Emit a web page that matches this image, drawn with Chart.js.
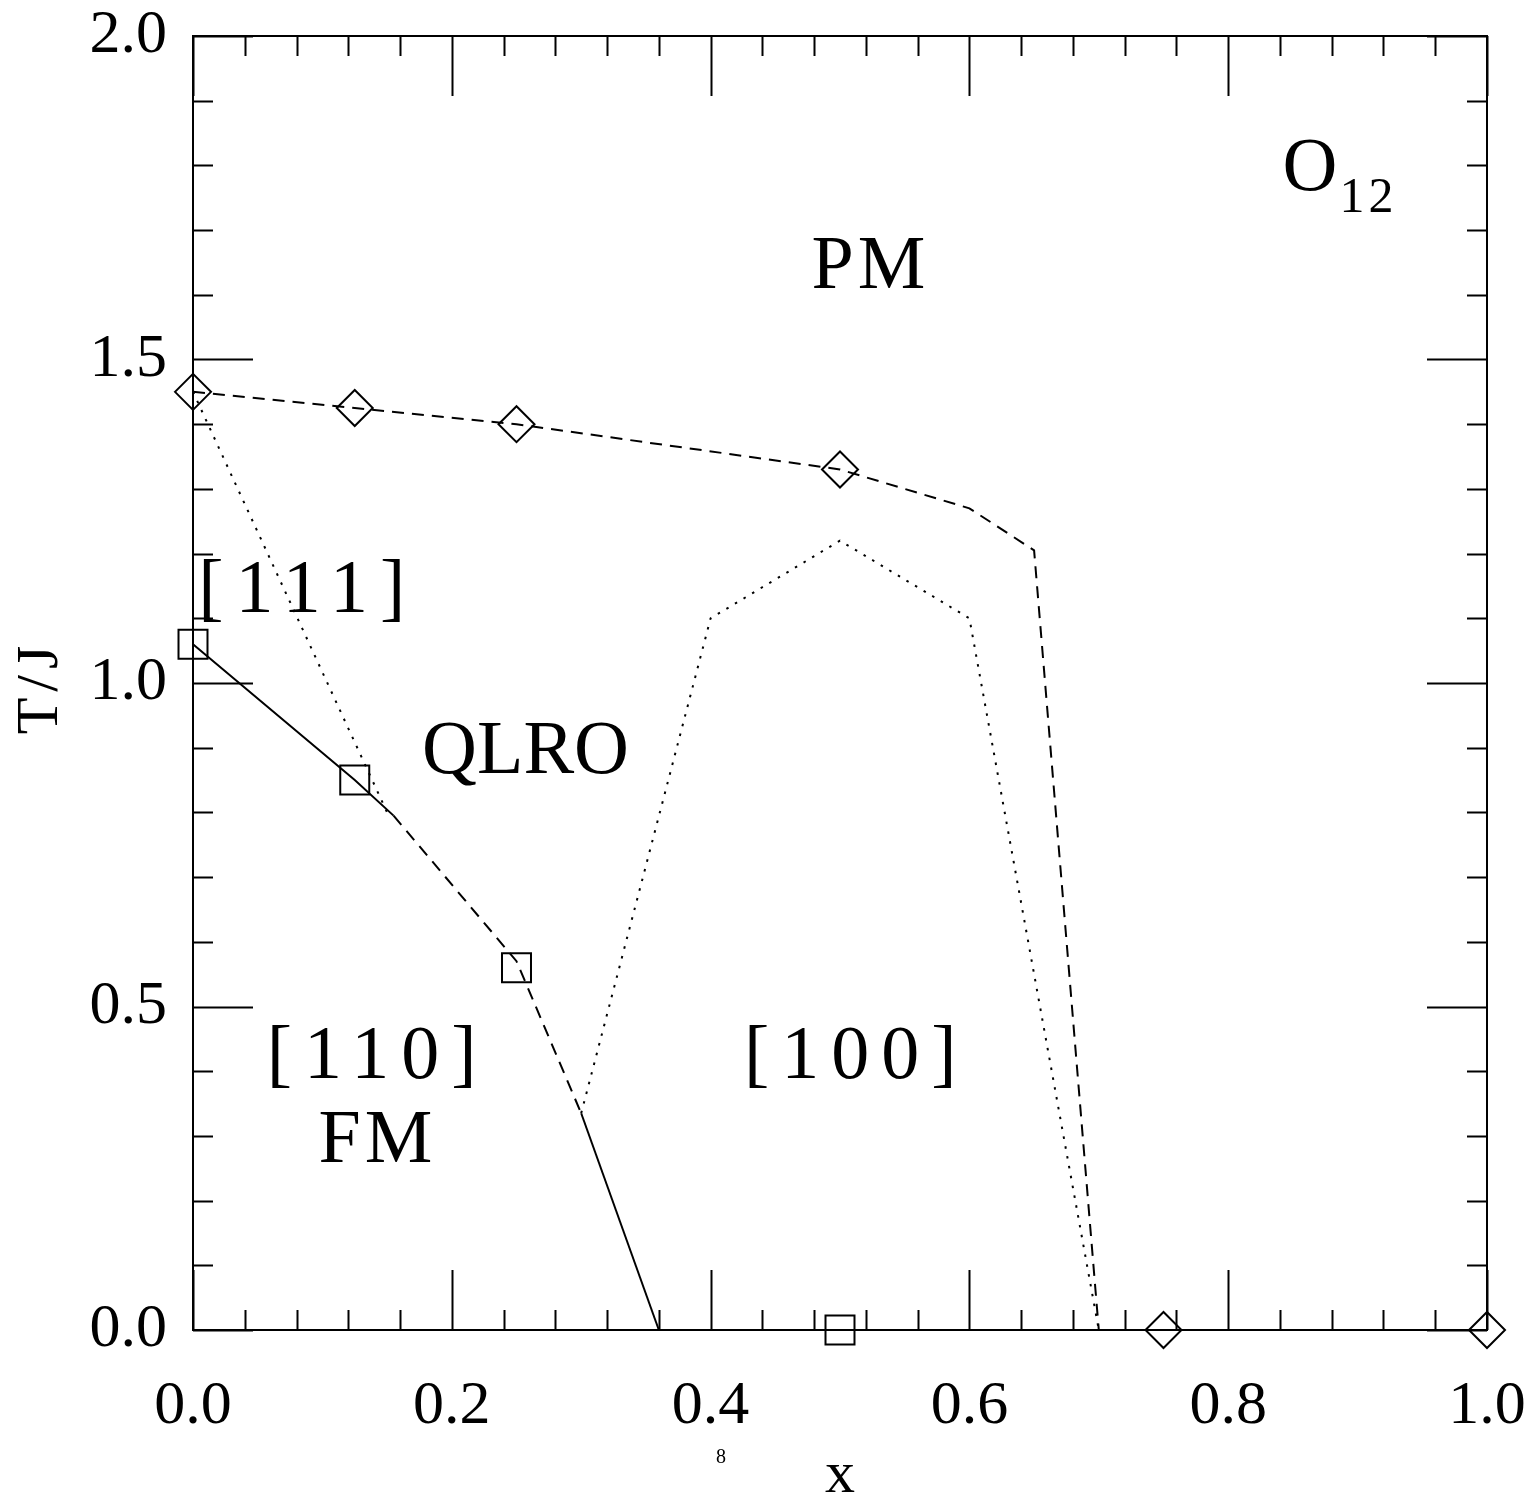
<!DOCTYPE html>
<html lang="en">
<head>
    <meta charset="UTF-8">
    <title>O12 phase diagram</title>
    <script src="https://cdn.jsdelivr.net/npm/chart.js"></script>
    <style>
        body { margin: 0; background: #ffffff; }
        #wrap { width: 1533px; height: 1497px; }
    </style>
</head>
<body>
    <div id="wrap"><canvas id="phase"></canvas></div>

    <script>
        // --- data ---
        // upper (PM) boundary, dashed
        const upperX = [0, 0.125, 0.25, 0.5, 0.6, 0.65, 0.7];
        const upperY = [1.45, 1.425, 1.40, 1.33, 1.27, 1.205, 0];
        // diamond markers
        const diamondX = [0, 0.125, 0.25, 0.5, 0.75, 1.0];
        const diamondY = [1.45, 1.425, 1.40, 1.33, 0, 0];
        // square markers
        const squareX = [0, 0.125, 0.25, 0.5];
        const squareY = [1.06, 0.85, 0.56, 0];
        // FM boundary: solid, dashed, solid pieces
        const fmSolid1X = [0, 0.125, 0.155];
        const fmSolid1Y = [1.06, 0.85, 0.795];
        const fmDashX = [0.155, 0.25, 0.3];
        const fmDashY = [0.795, 0.57, 0.335];
        const fmSolid2X = [0.3, 0.36];
        const fmSolid2Y = [0.335, 0];
        // dotted boundaries
        const dot111X = [0, 0.15];
        const dot111Y = [1.45, 0.80];
        const dot100X = [0.3, 0.4, 0.5, 0.6, 0.7];
        const dot100Y = [0.335, 1.10, 1.22, 1.10, 0];

        // tick setup
        const xMin = 0, xMax = 1, xMajor = 0.2, xMinor = 0.04;
        const yMin = 0, yMax = 2, yMajor = 0.5, yMinor = 0.1;

        // region labels (data coordinates)
        const regionLabels = [
            { text: "PM", x: 0.522, y: 1.61, size: 76, ls: 4 },
            { text: "[111]", x: 0.084, y: 1.11, size: 76, ls: 12 },
            { text: "QLRO", x: 0.257, y: 0.861, size: 76, ls: 0 },
            { text: "[110]", x: 0.138, y: 0.389, size: 76, ls: 12 },
            { text: "FM", x: 0.141, y: 0.26, size: 76, ls: 4 },
            { text: "[100]", x: 0.508, y: 0.389, size: 76, ls: 12 }
        ];

        const FONT = '"Liberation Serif", "DejaVu Serif", serif';

        function pts(xs, ys) {
            return xs.map((x, i) => ({ x: x, y: ys[i] }));
        }

        function lineSet(xs, ys, dash) {
            return {
                data: pts(xs, ys),
                showLine: true,
                borderColor: "#000",
                borderWidth: 2,
                borderDash: dash,
                pointRadius: 0,
                fill: false,
                tension: 0,
                clip: false
            };
        }

        const framePlugin = {
            id: "frame",
            afterDraw(chart) {
                const ctx = chart.ctx;
                const xs = chart.scales.x, ys = chart.scales.y;
                const a = chart.chartArea;
                ctx.save();
                ctx.strokeStyle = "#000";
                ctx.lineWidth = 2;
                ctx.setLineDash([]);
                ctx.strokeRect(a.left, a.top, a.right - a.left, a.bottom - a.top);

                ctx.beginPath();
                // x ticks (bottom and top, pointing inward)
                for (let v = xMin; v <= xMax + 1e-9; v += xMinor) {
                    const isMajor = Math.abs(v / xMajor - Math.round(v / xMajor)) < 1e-6;
                    const len = isMajor ? 60 : 20;
                    const px = Math.round(xs.getPixelForValue(v)) + 0.5;
                    ctx.moveTo(px, a.bottom); ctx.lineTo(px, a.bottom - len);
                    ctx.moveTo(px, a.top); ctx.lineTo(px, a.top + len);
                }
                // y ticks (left and right)
                for (let v = yMin; v <= yMax + 1e-9; v += yMinor) {
                    const isMajor = Math.abs(v / yMajor - Math.round(v / yMajor)) < 1e-6;
                    const len = isMajor ? 60 : 20;
                    const py = Math.round(ys.getPixelForValue(v)) + 0.5;
                    ctx.moveTo(a.left, py); ctx.lineTo(a.left + len, py);
                    ctx.moveTo(a.right, py); ctx.lineTo(a.right - len, py);
                }
                ctx.stroke();

                // region labels
                ctx.fillStyle = "#000";
                ctx.textBaseline = "alphabetic";
                ctx.textAlign = "left";
                regionLabels.forEach(l => {
                    ctx.font = l.size + "px " + FONT;
                    ctx.letterSpacing = l.ls + "px";
                    const w = ctx.measureText(l.text).width;
                    ctx.fillText(l.text, xs.getPixelForValue(l.x) - (w - l.ls) / 2, ys.getPixelForValue(l.y));
                });
                ctx.letterSpacing = "0px";

                // O_12
                ctx.font = "76px " + FONT;
                ctx.fillText("O", xs.getPixelForValue(0.842), ys.getPixelForValue(1.762));
                ctx.font = "50px " + FONT;
                ctx.letterSpacing = "4px";
                ctx.fillText("12", xs.getPixelForValue(0.886), ys.getPixelForValue(1.728));
                ctx.letterSpacing = "0px";

                // axis titles
                ctx.textAlign = "center";
                ctx.font = "60px " + FONT;
                ctx.fillText("x", xs.getPixelForValue(0.5), 1492);
                ctx.font = "20px " + FONT;
                ctx.fillText("8", 721, 1463);

                ctx.save();
                ctx.translate(57, 687);
                ctx.rotate(-Math.PI / 2);
                ctx.font = "60px " + FONT;
                ctx.letterSpacing = "6px";
                ctx.fillText("T/J", 0, 0);
                ctx.restore();

                ctx.restore();
            }
        };

        const ctx = document.getElementById("phase").getContext("2d");

        const chart = new Chart(ctx, {
            type: "scatter",
            data: {
                datasets: [
                    lineSet(upperX, upperY, [12, 8]),
                    lineSet(fmSolid1X, fmSolid1Y, []),
                    lineSet(fmDashX, fmDashY, [12, 8]),
                    lineSet(fmSolid2X, fmSolid2Y, []),
                    lineSet(dot111X, dot111Y, [2.5, 7.5]),
                    lineSet(dot100X, dot100Y, [2.5, 7.5]),
                    {
                        data: pts(diamondX, diamondY),
                        showLine: false,
                        pointStyle: "rectRot",
                        pointRadius: 18,
                        pointBorderWidth: 2,
                        pointBorderColor: "#000",
                        pointBackgroundColor: "rgba(0,0,0,0)",
                        clip: false
                    },
                    {
                        data: pts(squareX, squareY),
                        showLine: false,
                        pointStyle: "rect",
                        pointRadius: 20.5,
                        pointBorderWidth: 2,
                        pointBorderColor: "#000",
                        pointBackgroundColor: "rgba(0,0,0,0)",
                        clip: false
                    }
                ]
            },
            options: {
                responsive: true,
                maintainAspectRatio: false,
                animation: false,
                events: [],
                layout: { padding: { top: 0, right: 0, left: 0, bottom: 0 } },
                plugins: {
                    legend: { display: false },
                    tooltip: { enabled: false }
                },
                scales: {
                    x: {
                        type: "linear",
                        min: xMin,
                        max: xMax,
                        grid: { display: false },
                        border: { display: false },
                        afterFit(scale) {
                            scale.height = 167;
                            scale.paddingRight = 46;
                            scale.paddingLeft = 0;
                        },
                        ticks: {
                            stepSize: xMajor,
                            padding: 32,
                            color: "#000",
                            font: { family: FONT, size: 62 },
                            maxRotation: 0,
                            callback: v => v.toFixed(1)
                        }
                    },
                    y: {
                        type: "linear",
                        min: yMin,
                        max: yMax,
                        grid: { display: false },
                        border: { display: false },
                        afterFit(scale) {
                            scale.width = 193;
                            scale.paddingTop = 36;
                            scale.paddingBottom = 0;
                        },
                        ticks: {
                            stepSize: yMajor,
                            padding: 18,
                            color: "#000",
                            font: { family: FONT, size: 62 },
                            callback: v => v.toFixed(1)
                        }
                    }
                }
            },
            plugins: [framePlugin]
        });
    </script>
</body>
</html>
